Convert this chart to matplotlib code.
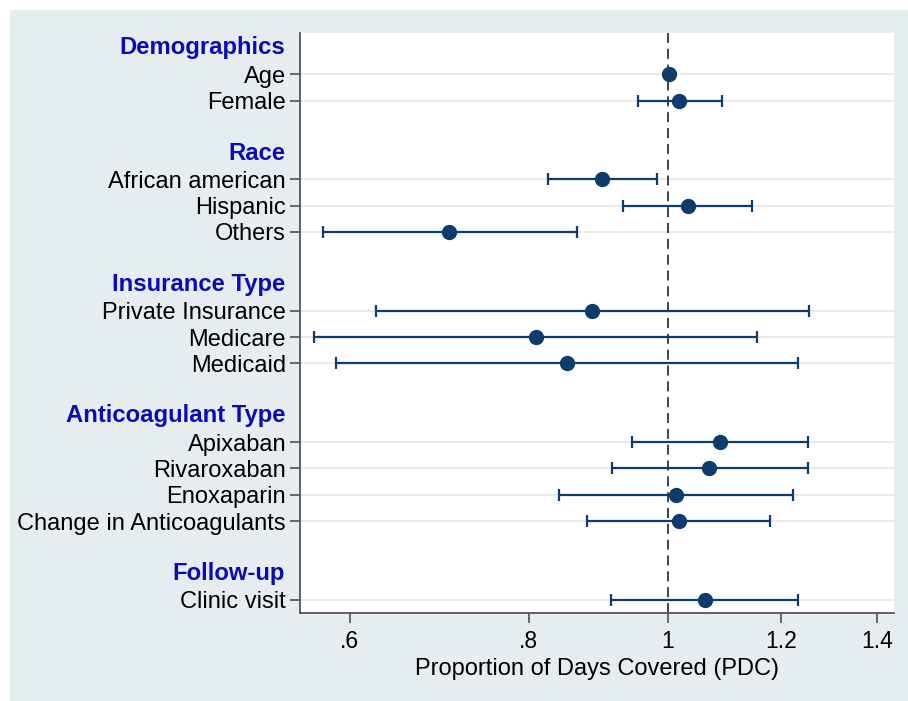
import matplotlib
matplotlib.use("Agg")
import matplotlib.pyplot as plt
from matplotlib.patches import Rectangle
from matplotlib.ticker import FixedLocator, NullLocator

plt.rcParams['font.family'] = ['Liberation Sans', 'DejaVu Sans']

# groups and their items, top to bottom
groups = ["Demographics", "Race", "Insurance Type", "Anticoagulant Type", "Follow-up"]
items = [
    ["Age", "Female"],
    ["African american", "Hispanic", "Others"],
    ["Private Insurance", "Medicare", "Medicaid"],
    ["Apixaban", "Rivaroxaban", "Enoxaparin", "Change in Anticoagulants"],
    ["Clinic visit"],
]
est = [1.002, 1.019,
       0.900, 1.033, 0.704,
       0.886, 0.809, 0.851,
       1.087, 1.069, 1.014, 1.018,
       1.061]
lo = [0.999, 0.954,
      0.825, 0.931, 0.575,
      0.626, 0.567, 0.587,
      0.945, 0.915, 0.840, 0.878,
      0.913]
hi = [1.005, 1.091,
      0.983, 1.146, 0.865,
      1.255, 1.155, 1.233,
      1.252, 1.252, 1.224, 1.179,
      1.233]
xticks = [0.6, 0.8, 1.0, 1.2, 1.4]
xticklabels = [".6", ".8", "1", "1.2", "1.4"]

navy = "#0e3c6c"
W, H = 908, 701

fig = plt.figure(figsize=(W / 100, H / 100), dpi=100, facecolor="white")
fig.patches.append(Rectangle((10 / W, 0), 1 - 10 / W, 1 - 10 / H,
                             transform=fig.transFigure, facecolor="#e6edf1",
                             edgecolor="none", zorder=-10))

ax = fig.add_axes([300 / W, (H - 613) / H, (894 - 300) / W, (613 - 33) / H])
ax.set_facecolor("white")

# row layout: header, items, blank gap
header_rows, item_rows, item_labels = [], [], []
r = 0
for g, its in zip(groups, items):
    header_rows.append(r)
    r += 1
    for it in its:
        item_rows.append(r)
        item_labels.append(it)
        r += 1
    r += 1

xerr = [[e - l for e, l in zip(est, lo)], [h - e for e, h in zip(est, hi)]]
ax.errorbar(est, item_rows, xerr=xerr, fmt="o", color=navy, ecolor=navy,
            elinewidth=1.6, capsize=4.3, capthick=1.6, markersize=10, zorder=3)

ax.axvline(1.0, color="#222222", lw=1.2, dashes=(6, 3.5), zorder=2)

ax.set_xscale("log")
ax.set_xlim(0.554, 1.4385)
ax.set_ylim(21.5, -0.57)

ax.xaxis.set_major_locator(FixedLocator(xticks))
ax.xaxis.set_minor_locator(NullLocator())
ax.set_xticklabels(xticklabels, fontsize=16.5)
ax.set_yticks(item_rows)
ax.set_yticklabels(item_labels, fontsize=17)
ax.tick_params(axis="y", length=7, width=1.1, color="#444444", pad=3)
ax.tick_params(axis="x", length=7, width=1.1, color="#444444", pad=5)
ax.yaxis.grid(True, color="#ebebeb", lw=1.5, zorder=1)
ax.set_axisbelow(True)

for s in ["top", "right"]:
    ax.spines[s].set_visible(False)
for s in ["left", "bottom"]:
    ax.spines[s].set_color("#555555")
    ax.spines[s].set_linewidth(1.3)

for g, hr in zip(groups, header_rows):
    ax.text(-15 / 594, hr, g, transform=ax.get_yaxis_transform(),
            ha="right", va="center", fontsize=17.2, fontweight="bold",
            color="#0c0cb4")

ax.set_xlabel("Proportion of Days Covered (PDC)", fontsize=17, labelpad=4)

fig.savefig("out.png", dpi=100, facecolor=fig.get_facecolor())
